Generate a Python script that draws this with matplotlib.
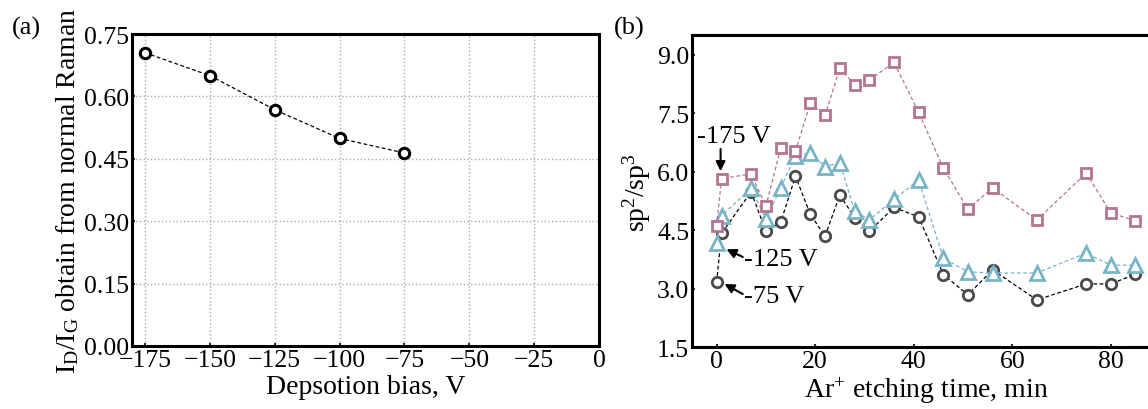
import matplotlib.pyplot as plt

plt.rcParams['font.family'] = ['Liberation Serif', 'DejaVu Serif']
plt.rcParams['mathtext.fontset'] = 'custom'
plt.rcParams['mathtext.rm'] = 'Liberation Serif'
plt.rcParams['mathtext.it'] = 'Liberation Serif:italic'

# (a) ID/IG vs deposition bias
bias = [-175, -150, -125, -100, -75]
id_ig = [0.705, 0.650, 0.568, 0.499, 0.464]

# (b) sp2/sp3 vs Ar+ etching time
etch_time = [0, 1, 7, 10, 13, 16, 19, 22, 25, 28, 31, 36, 41, 46, 51, 56, 65, 75, 80, 85]
sp_75 = [3.17, 4.42, 5.48, 4.47, 4.70, 5.88, 4.91, 4.34, 5.40, 4.82,
         4.47, 5.08, 4.84, 3.36, 2.84, 3.48, 2.71, 3.12, 3.12, 3.37]
sp_125 = [4.16, 4.87, 5.57, 4.78, 5.58, 6.41, 6.47, 6.13, 6.22, 4.99,
          4.76, 5.29, 5.78, 3.78, 3.43, 3.40, 3.40, 3.91, 3.60, 3.60]
sp_175 = [4.61, 5.82, 5.94, 5.11, 6.60, 6.53, 7.75, 7.44, 8.65, 8.23,
          8.35, 8.80, 7.52, 6.09, 5.04, 5.58, 4.76, 5.96, 4.94, 4.74]

fig = plt.figure(figsize=(11.48, 4.10), dpi=100)

# ---- panel a ----
ax1 = fig.add_axes([0.115, 0.1537, 0.4068, 0.7609])
ax1.plot(bias, id_ig, color='k', lw=0.9, ls=(0, (3, 2)), marker='o', ms=7.5,
         mfc='white', mec='k', mew=2.2)
ax1.set_xlim(-180, 0)
ax1.set_ylim(0, 0.75)
ax1.set_xticks([-175, -150, -125, -100, -75, -50, -25, 0])
ax1.set_yticks([0, 0.15, 0.30, 0.45, 0.60, 0.75])
ax1.set_yticklabels(['0.00', '0.15', '0.30', '0.45', '0.60', '0.75'])
ax1.grid(True, ls=':', color='#aaaaaa', lw=1)
ax1.set_xlabel('Depsotion bias, V', fontsize=20, labelpad=2)
ax1.set_ylabel(r'I$_\mathrm{D}$/I$_\mathrm{G}$ obtain from normal Raman', fontsize=20, labelpad=2)
fig.text(0.010, 0.93, '(a)', fontsize=19, ha='left', va='center')

# ---- panel b ----
ax2 = fig.add_axes([0.6028, 0.151, 0.4077, 0.761])
ax2.plot(etch_time, sp_75, color='k', lw=0.9, ls=(0, (3, 2)), marker='o', ms=7.5,
         mfc='white', mec='#4a4a4a', mew=2.0)
ax2.plot(etch_time, sp_125, color='#78b4c6', lw=0.9, ls=(0, (3, 2)), marker='^', ms=10,
         mfc='white', mec='#78b4c6', mew=2.0)
ax2.plot(etch_time, sp_175, color='#b37690', lw=0.9, ls=(0, (3, 2)), marker='s', ms=7,
         mfc='white', mec='#b37690', mew=2.0)
ax2.set_xlim(-5, 90)
ax2.set_ylim(1.5, 9.5)
ax2.set_xticks([0, 20, 40, 60, 80])
ax2.set_yticks([1.5, 3.0, 4.5, 6.0, 7.5, 9.0])
ax2.set_xlabel(r'Ar$^{+}$ etching time, min', fontsize=20, labelpad=2)
ax2.set_ylabel(r'sp$^{2}$/sp$^{3}$', fontsize=20, labelpad=3)
fig.text(0.535, 0.93, '(b)', fontsize=19, ha='left', va='center')

arrow = dict(arrowstyle='-|>', color='k', lw=1.5, mutation_scale=14, shrinkA=0, shrinkB=0)
ax2.text(3.45, 6.91, '-175 V', fontsize=19, ha='center', va='center')
ax2.annotate('', xy=(0.8, 6.01), xytext=(0.8, 6.58), arrowprops=arrow)
ax2.text(5.6, 3.76, '-125 V', fontsize=19, ha='left', va='center')
ax2.annotate('', xy=(2.0, 4.01), xytext=(5.3, 3.81), arrowprops=arrow)
ax2.text(5.6, 2.81, '-75 V', fontsize=19, ha='left', va='center')
ax2.annotate('', xy=(1.6, 3.12), xytext=(5.3, 2.86), arrowprops=arrow)

for ax in (ax1, ax2):
    for sp in ax.spines.values():
        sp.set_linewidth(2.2)
    ax.tick_params(direction='in', length=2.5, width=1.2, labelsize=18.5, pad=2)

fig.savefig('out.png', dpi=100)
